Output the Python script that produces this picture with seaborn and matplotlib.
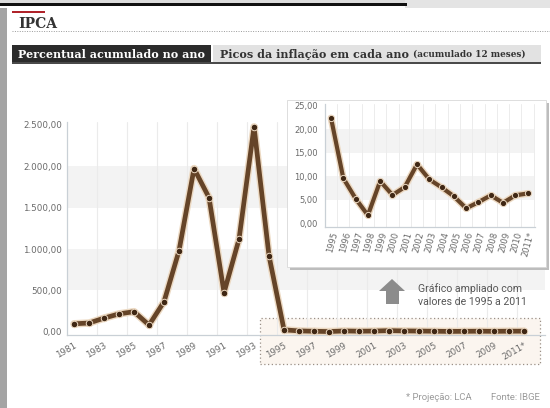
import matplotlib
matplotlib.use("Agg")
import matplotlib.pyplot as plt
import matplotlib.patheffects as pe
import numpy as np
import pandas as pd
import seaborn as sns
from matplotlib.patches import Polygon, Rectangle

W, H = 550, 408

anos = list(range(1981, 2012))
ipca = [95.6, 104.8, 164.0, 215.3, 242.2, 79.7, 363.4, 980.2, 1972.9, 1621.0,
        472.7, 1119.1, 2477.2, 916.5,
        22.41, 9.56, 5.22, 1.65, 8.94, 5.97, 7.67, 12.53, 9.30, 7.60, 5.69,
        3.14, 4.46, 5.90, 4.31, 5.91, 6.30]

anos_zoom = list(range(1995, 2012))
ipca_zoom = ipca[anos.index(1995):]

rotulos_main = [str(a) for a in range(1981, 2011, 2)] + ["2011*"]
rotulos_zoom = [str(a) for a in range(1995, 2011)] + ["2011*"]
ticks_main_y = [0, 500, 1000, 1500, 2000, 2500]
ticks_zoom_y = [0, 5, 10, 15, 20, 25]

LINE = "#654428"
GLOW = "#ecd9c2"
TICK = "#6a6a6a"


def px(x0, y0, x1, y1):
    return [x0 / W, 1 - y1 / H, (x1 - x0) / W, (y1 - y0) / H]


def br(v, dec=2):
    s = f"{v:,.{dec}f}"
    return s.replace(",", "X").replace(".", ",").replace("X", ".")


def fig_rect(fig, x0, y0, x1, y1, **kw):
    r = Rectangle((x0 / W, 1 - y1 / H), (x1 - x0) / W, (y1 - y0) / H,
                  transform=fig.transFigure, **kw)
    fig.patches.append(r)
    return r


def draw_series(ax, df, lw, ms):
    sns.lineplot(data=df, x="ano", y="valor", ax=ax, color=LINE, linewidth=lw, zorder=5,
                 path_effects=[pe.Stroke(linewidth=lw + 2.0, foreground=GLOW), pe.Normal()])
    sns.scatterplot(data=df, x="ano", y="valor", ax=ax, color="#3f2714", s=ms,
                    edgecolor=GLOW, linewidth=0.7, zorder=6)


def style_axes(ax):
    for s in ["top", "right"]:
        ax.spines[s].set_visible(False)
    for s in ["left", "bottom"]:
        ax.spines[s].set_color("#c9d0d6")
        ax.spines[s].set_linewidth(0.9)
    ax.set_xlabel("")
    ax.set_ylabel("")
    ax.tick_params(axis="both", colors=TICK, labelsize=6.3, length=0)
    ax.tick_params(axis="x", which="minor", length=3, color="#c9d0d6")
    ax.grid(False)


sns.set_style("white")
plt.rcParams["font.family"] = ["DejaVu Sans"]

fig = plt.figure(figsize=(W / 100, H / 100), dpi=100)
fig.patch.set_facecolor("white")

# screenshot frame bits
fig_rect(fig, 0, 0, W, 4, facecolor="#dcdcdc", edgecolor="none", zorder=-5)
fig_rect(fig, 405, 0, W, 8, facecolor="#e4e4e4", edgecolor="none", zorder=-5)
fig_rect(fig, 0, 3, 407, 5.5, facecolor="#111111", edgecolor="none", zorder=-4)
fig_rect(fig, 0, 8, 7, H, facecolor="#a4a4a4", edgecolor="none", zorder=-5)

# header
fig_rect(fig, 12, 11, 45, 13, facecolor="#b0232a", edgecolor="none")
fig.text(18 / W, 1 - 24 / H, "IPCA", family="DejaVu Serif", weight="bold",
         fontsize=10, color="#333333", va="center")
fig.lines.append(plt.Line2D([12 / W, 1], [1 - 31 / H] * 2, transform=fig.transFigure,
                            color="#9a9a9a", lw=0.7, ls=(0, (1, 1.5))))
fig_rect(fig, 12, 45, 211, 62, facecolor="#2b2b2b", edgecolor="none")
fig_rect(fig, 213, 45, 541, 62, facecolor="#e2e2e2", edgecolor="none")
fig_rect(fig, 12, 61.5, 541, 63.5, facecolor="#4a4a4a", edgecolor="none")
fig.text(18 / W, 1 - 54 / H, "Percentual acumulado no ano", family="DejaVu Serif",
         weight="bold", fontsize=8.0, color="white", va="center")
t_picos = fig.text(220 / W, 1 - 54 / H, "Picos da inflação em cada ano", family="DejaVu Serif",
                   weight="bold", fontsize=8.0, color="#333333", va="center")
renderer = fig.canvas.get_renderer()
x_end = t_picos.get_window_extent(renderer).x1
fig.text(x_end / W + 4 / W, 1 - 54.5 / H, "(acumulado 12 meses)", family="DejaVu Serif",
         weight="bold", fontsize=6.4, color="#333333", va="center")

# dotted highlight box around 1995-2011
fig_rect(fig, 260, 318, 540, 364, facecolor="#fbf5ef", edgecolor="#9a8f86",
         linewidth=0.9, linestyle=(0, (1, 2)), zorder=-1)

# main chart
df_main = pd.DataFrame({"ano": anos, "valor": ipca})
ax = fig.add_axes(px(67, 122, 545, 335))
ax.set_facecolor("none")
for lo, hi in [(500, 1000), (1500, 2000)]:
    ax.axhspan(lo, hi, color="#f3f3f3", zorder=0, lw=0)
for g in np.arange(1982.5, 2012, 2):
    ax.axvline(g, color="#ebebeb", lw=0.8, zorder=0.5)
draw_series(ax, df_main, lw=3.4, ms=22)
ax.set_xlim(1980.53, 2012.4)
ax.set_ylim(-40, 2536)
ax.set_yticks(ticks_main_y)
ax.set_yticklabels([br(v) for v in ticks_main_y])
ax.set_xticks(range(1981, 2012, 2))
ax.set_xticklabels(rotulos_main, rotation=30, ha="right", rotation_mode="anchor")
ax.set_xticks(np.arange(1982.5, 2012, 2), minor=True)
style_axes(ax)
ax.tick_params(axis="x", pad=4)
ax.tick_params(axis="y", pad=3.5)

# inset panel with shadow
fig_rect(fig, 290, 103, 549, 270, facecolor="#bdbdbd", edgecolor="none", zorder=2)
fig_rect(fig, 287, 100, 546, 267, facecolor="white", edgecolor="#d8d8d8",
         linewidth=0.6, zorder=2.1)

df_zoom = pd.DataFrame({"ano": anos_zoom, "valor": ipca_zoom})
axi = fig.add_axes(px(325, 104, 535, 227))
axi.set_zorder(3)
axi.set_facecolor("none")
for lo, hi in [(5, 10), (15, 20)]:
    axi.axhspan(lo, hi, color="#f3f3f3", zorder=0, lw=0)
for g in np.arange(1995.5, 2012, 1):
    axi.axvline(g, color="#ececec", lw=0.7, zorder=0.5)
draw_series(axi, df_zoom, lw=3.0, ms=20)
axi.set_xlim(1994.51, 2011.6)
axi.set_ylim(-0.85, 25.4)
axi.set_yticks(ticks_zoom_y)
axi.set_yticklabels([br(v) for v in ticks_zoom_y])
axi.set_xticks(anos_zoom)
axi.set_xticklabels(rotulos_zoom, rotation=75, ha="right", rotation_mode="anchor")
axi.set_xticks(np.arange(1995.5, 2012, 1), minor=True)
style_axes(axi)
axi.tick_params(axis="x", pad=3, labelsize=6.0)
axi.tick_params(axis="y", pad=5, labelsize=6.0)

# arrow + note
arrow = [(392, 279), (405, 291), (399, 291), (399, 304), (386, 304), (386, 291), (379, 291)]
fig.patches.append(Polygon([(x / W, 1 - y / H) for x, y in arrow], closed=True,
                           transform=fig.transFigure, facecolor="#8c8c8c", edgecolor="none"))
fig.text(418 / W, 1 - 289 / H, "Gráfico ampliado com", family="Roboto",
         fontsize=7.6, color="#555555", va="center")
fig.text(418 / W, 1 - 302 / H, "valores de 1995 a 2011", family="Roboto",
         fontsize=7.6, color="#555555", va="center")

# footer
fig.text(406 / W, 1 - 397 / H, "* Projeção: LCA", family="Roboto",
         fontsize=6.8, color="#9a9a9a", va="center")
fig.text(491 / W, 1 - 397 / H, "Fonte: IBGE", family="Roboto",
         fontsize=6.8, color="#9a9a9a", va="center")

fig.savefig("out.png", dpi=100)
